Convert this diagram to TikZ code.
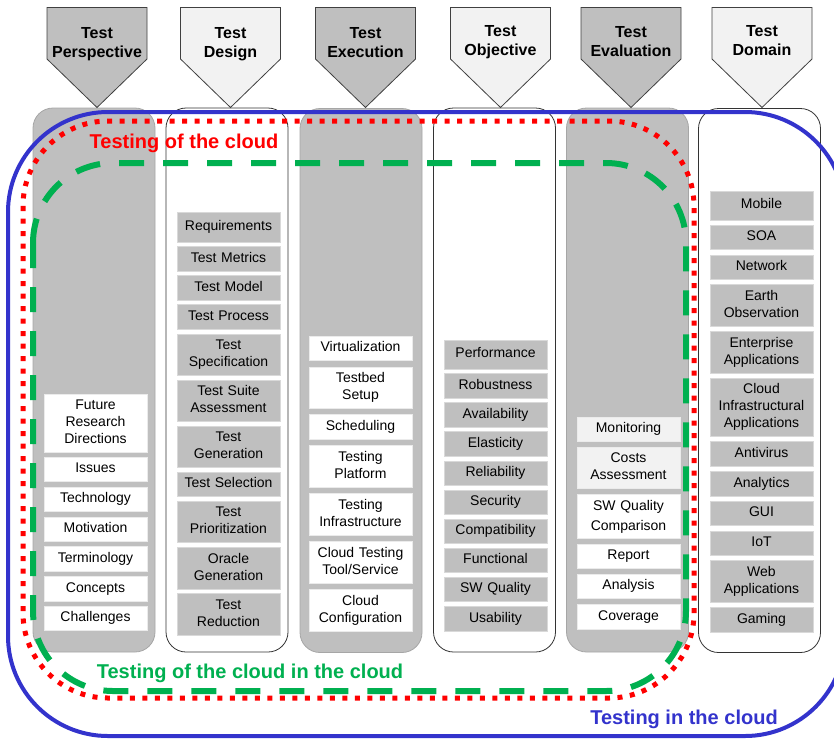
\documentclass[tikz,border=0pt]{standalone}
\usepackage{fontspec}
\setmainfont{Liberation Sans}
\usetikzlibrary{positioning}
\definecolor{boxgray}{RGB}{191,191,191}
\definecolor{palegray}{RGB}{242,242,242}
\definecolor{lanegray}{RGB}{166,166,166}
\definecolor{cloudblue}{RGB}{51,51,204}
\definecolor{cloudred}{RGB}{255,0,0}
\definecolor{cloudgreen}{RGB}{0,176,80}

\begin{document}
\begin{tikzpicture}[x=1pt, y=1pt, node distance=5pt,
  lane/.style={rectangle, rounded corners=20pt, minimum width=122pt, minimum height=544pt, line width=0.8pt},
  hdr/.style={draw=black!75, line width=0.8pt},
  hdrtext/.style={anchor=north, inner sep=0pt, align=center, font=\bfseries\fontsize{16}{19}\selectfont},
  item/.style={rectangle, minimum height=24.5pt, text width=98pt, inner xsep=2.5pt, inner ysep=2pt, outer sep=0pt, align=center,
    font=\fontsize{14}{17}\selectfont, execute at begin node=\strut, execute at end node=\strut, line width=0.8pt},
  gbox/.style={item, fill=boxgray, draw=white!85!black},
  wbox/.style={item, fill=white, draw=white!92!black},
  pbox/.style={item, fill=palegray, draw=white!92!black},
  two/.style={minimum height=41.5pt},
  three/.style={minimum height=58pt},
  tag/.style={inner sep=0pt, font=\bfseries\fontsize{20}{24}\selectfont}]
  \useasboundingbox (0,0) rectangle (834,-742);
  \clip (0,0) rectangle (834,-742);

  % lanes
  \node[lane, fill=boxgray, draw=lanegray] (persp) at (94,-380) {};
  \node[lane, fill=white, draw=black!80] (design) at (227,-380) {};
  \node[lane, fill=boxgray, draw=lanegray] (exec) at (361,-380.5) {};
  \node[lane, fill=white, draw=black!80] (obj) at (494.5,-380) {};
  \node[lane, fill=boxgray, draw=lanegray] (eval) at (627.5,-380) {};
  \node[lane, fill=white, draw=black!80] (domain) at (759.5,-380.5) {};

  % headers
  \draw[hdr, fill=boxgray] (47,-7.5) -- ++(100,0) -- ++(0,-51.5) -- ++(-50,-48.5) -- ++(-50,48.5) -- cycle;
  \node[hdrtext] (hpersp) at (97,-27) {Test\\Perspective};
  \draw[hdr, fill=palegray] (180.5,-7.5) -- ++(100,0) -- ++(0,-51.5) -- ++(-50,-48.5) -- ++(-50,48.5) -- cycle;
  \node[hdrtext] (hdesign) at (230.5,-27.5) {Test\\Design};
  \draw[hdr, fill=boxgray] (315.5,-7.5) -- ++(100,0) -- ++(0,-51.5) -- ++(-50,-48.5) -- ++(-50,48.5) -- cycle;
  \node[hdrtext] (hexec) at (365.5,-27) {Test\\Execution};
  \draw[hdr, fill=palegray] (450.5,-7.5) -- ++(100,0) -- ++(0,-51.5) -- ++(-50,-48.5) -- ++(-50,48.5) -- cycle;
  \node[hdrtext] (hobj) at (500.5,-25.5) {Test\\Objective};
  \draw[hdr, fill=boxgray] (581,-7.5) -- ++(100,0) -- ++(0,-51.5) -- ++(-50,-48.5) -- ++(-50,48.5) -- cycle;
  \node[hdrtext] (heval) at (631,-26) {Test\\Evaluation};
  \draw[hdr, fill=palegray] (712,-7.5) -- ++(100,0) -- ++(0,-51.5) -- ++(-50,-48.5) -- ++(-50,48.5) -- cycle;
  \node[hdrtext] (hdomain) at (762,-25.5) {Test\\Domain};

  % cloud outlines
  \draw[cloudblue, line width=4pt, rounded corners=100pt] (8,-112) rectangle (845,-736);
  \draw[cloudred, line width=5pt, dash pattern=on 5pt off 7.5pt, rounded corners=85pt] (23,-121) rectangle (694,-698);
  \draw[cloudgreen, line width=6pt, dash pattern=on 25pt off 19pt, rounded corners=80pt] (33,-163) rectangle (686,-691);
  \node[tag, text=cloudred] (ofcloud) at (184,-143) {Testing of the cloud};
  \node[tag, text=cloudgreen] (ofincloud) at (250,-673.5) {Testing of the cloud in the cloud};
  \node[tag, text=cloudblue] (incloud) at (684,-719) {Testing in the cloud};

  % test perspective
  \begin{scope}[node distance=5.3pt]
    \node[wbox, three, anchor=north] (future) at (95.5,-394) {Future\\Research\\Directions};
    \node[wbox, below=of future] (issues) {Issues};
    \node[wbox, below=of issues] (techn) {Technology};
    \node[wbox, below=of techn] (motiv) {Motivation};
    \node[wbox, below=of motiv] (termin) {Terminology};
    \node[wbox, below=of termin] (concepts) {Concepts};
    \node[wbox, below=of concepts] (challenges) {Challenges};
  \end{scope}

  % test design
  \begin{scope}[node distance=4.6pt]
    \node[gbox, minimum height=30pt, anchor=north] (req) at (228.5,-212) {Requirements};
    \node[gbox, below=of req] (metrics) {Test Metrics};
    \node[gbox, below=of metrics] (model) {Test Model};
    \node[gbox, below=of model] (process) {Test Process};
    \node[gbox, two, below=of process] (spec) {Test\\Specification};
    \node[gbox, two, below=of spec] (suite) {Test Suite\\Assessment};
    \node[gbox, two, below=of suite] (gen) {Test\\Generation};
    \node[gbox, below=of gen] (select) {Test Selection};
    \node[gbox, two, below=of select] (prio) {Test\\Prioritization};
    \node[gbox, two, below=of prio] (oracle) {Oracle\\Generation};
    \node[gbox, two, below=of oracle] (reduct) {Test\\Reduction};
  \end{scope}

  % test execution
  \begin{scope}[node distance=6.4pt]
    \node[wbox, anchor=north] (virt) at (360.5,-336) {Virtualization};
    \node[wbox, two, below=of virt] (testbed) {Testbed\\Setup};
    \node[wbox, below=of testbed] (sched) {Scheduling};
    \node[wbox, two, below=of sched] (platform) {Testing\\Platform};
    \node[wbox, two, below=of platform] (infra) {Testing\\Infrastructure};
    \node[wbox, two, below=of infra] (tool) {Cloud Testing\\Tool/Service};
    \node[wbox, two, below=of tool] (config) {Cloud\\Configuration};
  \end{scope}

  % test objective
  \begin{scope}[node distance=4.6pt]
    \node[gbox, minimum height=29pt, anchor=north] (perf) at (495.5,-340) {Performance};
    \node[gbox, below=of perf] (robust) {Robustness};
    \node[gbox, below=of robust] (avail) {Availability};
    \node[gbox, below=of avail] (elast) {Elasticity};
    \node[gbox, below=of elast] (reliab) {Reliability};
    \node[gbox, below=of reliab] (secur) {Security};
    \node[gbox, below=of secur] (compat) {Compatibility};
    \node[gbox, below=of compat] (funct) {Functional};
    \node[gbox, below=of funct] (swq) {SW Quality};
    \node[gbox, below=of swq] (usab) {Usability};
  \end{scope}

  % test evaluation
  \begin{scope}[node distance=5.7pt]
    \node[pbox, anchor=north] (monit) at (628.5,-417) {Monitoring};
    \node[pbox, two, below=of monit] (costs) {Costs\\Assessment};
    \node[wbox, minimum height=44pt, font=\fontsize{14}{20}\selectfont, below=of costs] (swqc) {SW Quality\\Comparison};
    \node[wbox, below=of swqc] (report) {Report};
    \node[wbox, below=of report] (analysis) {Analysis};
    \node[wbox, below=of analysis] (coverage) {Coverage};
  \end{scope}

  % test domain
  \begin{scope}[node distance=5.27pt]
    \node[gbox, minimum height=29pt, anchor=north] (mobile) at (761.5,-191) {Mobile};
    \node[gbox, below=of mobile] (soa) {SOA};
    \node[gbox, below=of soa] (network) {Network};
    \node[gbox, two, below=of network] (earth) {Earth\\Observation};
    \node[gbox, two, below=of earth] (enterp) {Enterprise\\Applications};
    \node[gbox, three, below=of enterp] (cloudinf) {Cloud\\Infrastructural\\Applications};
    \node[gbox, below=of cloudinf] (antivir) {Antivirus};
    \node[gbox, below=of antivir] (analyt) {Analytics};
    \node[gbox, below=of analyt] (gui) {GUI};
    \node[gbox, below=of gui] (iot) {IoT};
    \node[gbox, two, below=of iot] (webapp) {Web\\Applications};
    \node[gbox, below=of webapp] (gaming) {Gaming};
  \end{scope}
\end{tikzpicture}
\end{document}
